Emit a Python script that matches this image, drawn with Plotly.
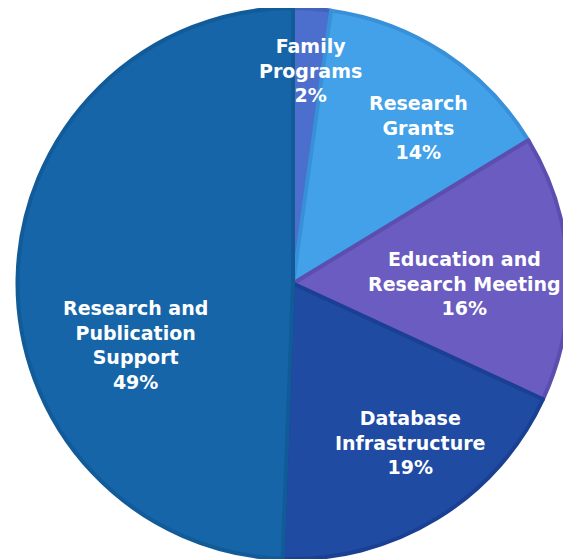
import plotly.graph_objects as go

labels = ["Family Programs", "Research Grants", "Education and Research Meeting",
          "Database Infrastructure", "Research and Publication Support"]
values = [2.2, 14.1, 15.6, 18.7, 49.4]
label_text = ["Family<br>Programs<br>2%", "Research<br>Grants<br>14%",
              "Education and<br>Research Meeting<br>16%",
              "Database<br>Infrastructure<br>19%",
              "Research and<br>Publication<br>Support<br>49%"]

fill_colors = ["#4C6ECC", "#42A1E8", "#6A5CC0", "#1F4BA3", "#1565A8"]
line_colors = ["#4262BC", "#3890D8", "#5C4EAE", "#1A4093", "#125B99"]

# page offset from the default body margin of the html page
OFF = 8
W, H = 571 - OFF, 559 - OFF

# label anchor points in page pixels (x, y from top)
label_pos = [(310, 70), (418, 127), (464, 283), (410, 442), (135, 345)]

cx, cy, r = 293 - OFF, H / 2, H / 2

fig = go.Figure(go.Pie(
    labels=labels, values=values, sort=False, direction="clockwise",
    rotation=0, textinfo="none", hoverinfo="label+percent",
    marker=dict(colors=fill_colors, line=dict(color=line_colors, width=4)),
    domain=dict(x=[(cx - r) / W, (cx + r) / W], y=[0, 1]),
    showlegend=False,
))

for txt, (px, py) in zip(label_text, label_pos):
    fig.add_annotation(x=(px - OFF) / W, y=(H - (py - OFF)) / H, xref="paper", yref="paper",
                       text=txt, showarrow=False, xanchor="center", yanchor="middle",
                       font=dict(family="DejaVu Sans", size=19, color="white", weight="bold"))

fig.update_layout(width=W, height=H, margin=dict(l=0, r=0, t=0, b=0),
                  paper_bgcolor="white", plot_bgcolor="white")
fig.write_html("out.html")
